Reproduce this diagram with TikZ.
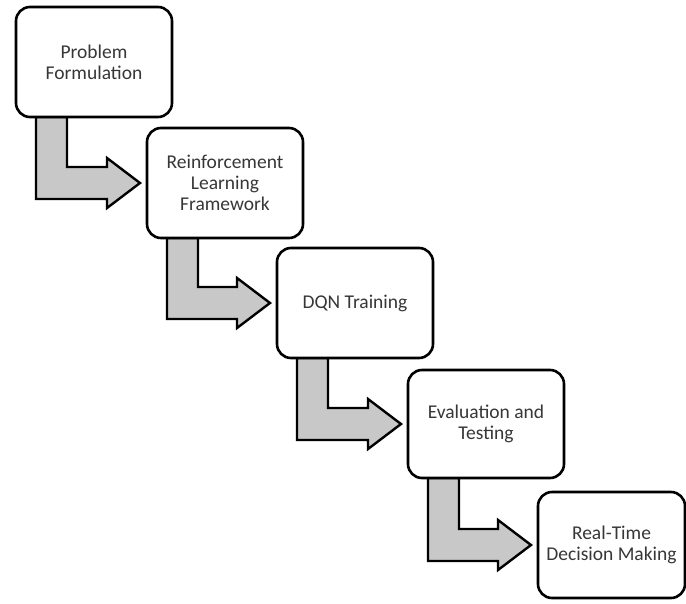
\documentclass[tikz,border=0pt]{standalone}
\usepackage{fontspec}
\setmainfont{Carlito}
\usetikzlibrary{calc,backgrounds}
\definecolor{arrowgray}{RGB}{200,200,200}
\definecolor{textgray}{RGB}{55,55,55}
\begin{document}
\begin{tikzpicture}[x=1pt,y=-1pt,
  stepbox/.style={draw=black,line width=2.6pt,rounded corners=14pt,fill=white,
    minimum width=156pt,minimum height=110pt,outer sep=0pt,inner sep=2pt,
    align=center,text=textgray,font=\fontsize{19.5}{21}\selectfont},
  blockarrow/.style={draw=black,line width=2.4pt,fill=arrowgray,line join=miter}]
\useasboundingbox (0,0) rectangle (686,603);
\node[stepbox] (b1) at (94,62) {Problem\\Formulation};
\node[stepbox] (b2) at (225,183) {Reinforcement\\Learning\\Framework};
\node[stepbox] (b3) at (355,303) {DQN Training};
\node[stepbox,minimum height=108pt] (b4) at (486,424) {Evaluation and\\Testing};
\node[stepbox,minimum width=147pt,minimum height=106pt] (b5) at (611.5,545) {Real-Time\\Decision Making};
\newcommand{\stepconnector}[2]{%
  \draw[blockarrow] ($(#1.south west)+(20,0)$) -- ($(#1.south west)+(51,0)$)
    |- ($(#2.west)+(-40,-16)$) -- ($(#2.west)+(-40,-25)$) -- ($(#2.west)+(-7,0)$)
    -- ($(#2.west)+(-40,25)$) -- ($(#2.west)+(-40,16)$) -| ($(#1.south west)+(20,0)$) -- cycle;}
\begin{pgfonlayer}{background}
\stepconnector{b1}{b2}
\stepconnector{b2}{b3}
\stepconnector{b3}{b4}
\stepconnector{b4}{b5}
\end{pgfonlayer}
\end{tikzpicture}
\end{document}
